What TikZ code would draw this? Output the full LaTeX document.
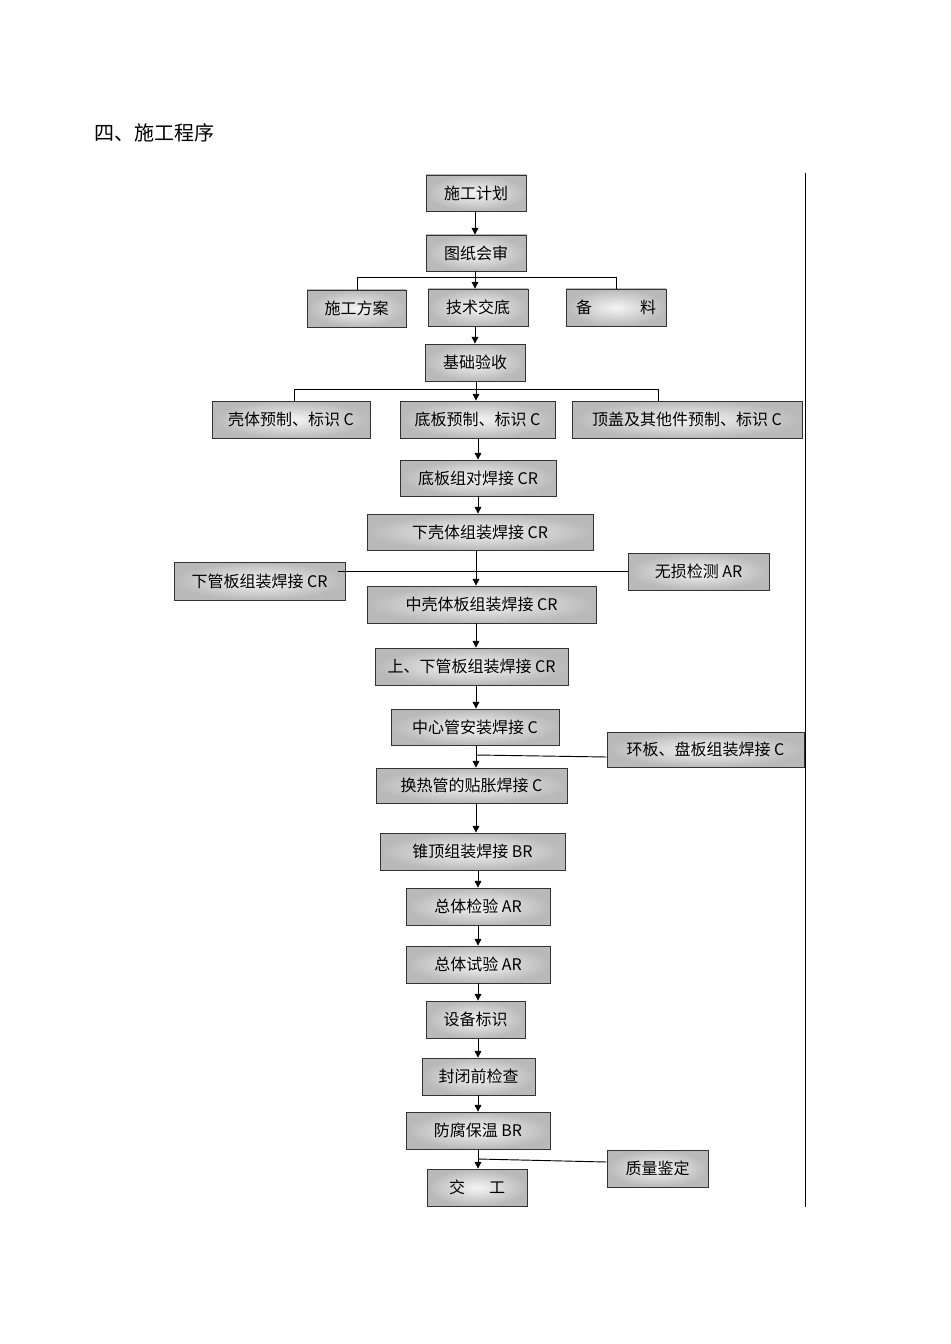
\documentclass[tikz,border=0pt]{standalone}
\usepackage{fontspec}
\setmainfont{Liberation Serif}
\newfontfamily\cjk{Noto Sans CJK SC}
\usetikzlibrary{arrows.meta,shadows}
\tikzset{
 bx/.style={draw=black!80,line width=0.6pt,inner color=gray!8,outer color=gray!55,
   drop shadow={shadow xshift=1pt,shadow yshift=-1pt,opacity=1,fill=black!80},
   font=\cjk\fontsize{12}{12}\selectfont},
 ln/.style={line width=0.7pt,black},
 ar/.style={ln,-{Triangle[length=5pt,width=5pt]}}
}
\newcommand{\bxat}[6]{\node[bx,minimum width={(#4-#2)*0.75pt},minimum height={(#5-#3)*0.75pt},inner sep=0pt] (#1) at ({(#2+#4)/2},{(#3+#5)/2}) {#6};}
\begin{document}
\begin{tikzpicture}[x=0.75pt,y=-0.75pt]
\useasboundingbox (0,0) rectangle (950,1344);
\node[anchor=west,font=\cjk\fontsize{15}{15}\selectfont] (title) at (90,133) {四、施工程序};
\draw[ln,line width=0.5pt] (805,173) -- (805,1207);
\bxat{a}{426}{175}{526}{211}{施工计划}
\bxat{b}{426}{235}{526}{271}{图纸会审}
\bxat{c1}{307}{290}{406}{327}{施工方案}
\bxat{c2}{428}{289}{528}{326}{技术交底}
\bxat{c3}{566}{289}{666}{326}{备\hspace{3em}料}
\bxat{d}{425}{344}{525}{381}{基础验收}
\bxat{e1}{212}{401}{370}{438}{壳体预制、标识 C}
\bxat{e2}{400}{401}{555}{438}{底板预制、标识 C}
\bxat{e3}{572}{401}{802}{438}{顶盖及其他件预制、标识 C}
\bxat{f}{400}{460}{556}{496}{底板组对焊接 CR}
\bxat{g}{367}{514}{593}{550}{下壳体组装焊接 CR}
\bxat{g1}{174}{562}{345}{600}{下管板组装焊接 CR}
\bxat{g2}{628}{553}{769}{590}{无损检测 AR}
\bxat{h}{367}{586}{596}{623}{中壳体板组装焊接 CR}
\bxat{i}{375}{648}{568}{685}{上、下管板组装焊接 CR}
\bxat{j}{391}{709}{559}{745}{中心管安装焊接 C}
\bxat{j2}{607}{732}{804}{767}{环板、盘板组装焊接 C}
\bxat{k}{376}{768}{567}{803}{换热管的贴胀焊接 C}
\bxat{l}{380}{833}{565}{870}{锥顶组装焊接 BR}
\bxat{m}{406}{888}{550}{925}{总体检验 AR}
\bxat{n}{406}{946}{550}{983}{总体试验 AR}
\bxat{o}{426}{1001}{525}{1038}{设备标识}
\bxat{p}{422}{1058}{535}{1095}{封闭前检查}
\bxat{q}{406}{1112}{550}{1149}{防腐保温 BR}
\bxat{q2}{607}{1150}{708}{1187}{质量鉴定}
\bxat{r}{427}{1169}{527}{1206}{交\hspace{1.5em}工}
% top
\draw[ar] (a.south -| 475,0) -- (b.north -| 475,0);
\draw[ar] (b.south -| 475,0) -- (c2.north -| 475,0);
\draw[ln] (c1.north -| 357,0) -- (357,277) -- (616,277) -- (c3.north -| 616,0);
\draw[ar] (c2.south -| 475,0) -- (d.north -| 475,0);
\draw[ln] (e1.north -| 294,0) -- (294,389) -- (658,389) -- (e3.north -| 658,0);
\draw[ar] (d.south -| 476,0) -- (e2.north -| 476,0);
\draw[ar] (e2.south -| 478,0) -- (f.north -| 478,0);
\draw[ar] (f.south -| 478,0) -- (g.north -| 478,0);
\draw[ar] (g.south -| 476,0) -- (h.north -| 476,0);
\draw[ln] (338,571) -- (g2.west |- 0,571);
\draw[ar] (h.south -| 476,0) -- (i.north -| 476,0);
\draw[ar] (i.south -| 476,0) -- (j.north -| 476,0);
\draw[ar] (j.south -| 476,0) -- (k.north -| 476,0);
\draw[ln] (476,755) -- (j2.west |- 0,757);
\draw[ar] (k.south -| 476,0) -- (l.north -| 476,0);
\draw[ar] (l.south -| 478,0) -- (m.north -| 478,0);
\draw[ar] (m.south -| 478,0) -- (n.north -| 478,0);
\draw[ar] (n.south -| 478,0) -- (o.north -| 478,0);
\draw[ar] (o.south -| 478,0) -- (p.north -| 478,0);
\draw[ar] (p.south -| 478,0) -- (q.north -| 478,0);
\draw[ar] (q.south -| 478,0) -- (r.north -| 478,0);
\draw[ln] (478,1159) -- (q2.west |- 0,1162);
\end{tikzpicture}
\end{document}
